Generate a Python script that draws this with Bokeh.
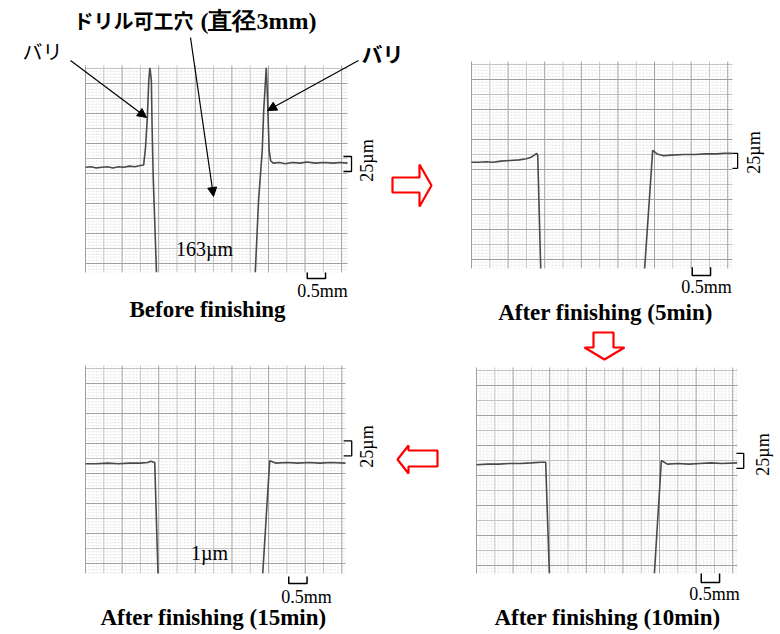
from math import pi
from bokeh.plotting import figure
from bokeh.models import Range1d, Arrow, NormalHead
from bokeh.core.properties import value
from bokeh.embed import file_html
from bokeh.resources import INLINE

# ---------------- data (profile traces: x in mm, y in µm from surface) ----------------
p1_left_x = [0.00, 0.15, 0.30, 0.45, 0.60, 0.75, 0.90, 1.05, 1.20, 1.35, 1.50, 1.59, 1.64, 1.69, 1.73, 1.76, 1.80, 1.82, 1.85, 1.94]
p1_left_y = [-3, -2, -4, -3, -2, -4, -2, -3, -1, -2, 0, 1, 30, 80, 142, 163, 142, 65, -19, -178]
p1_right_x = [4.64, 4.73, 4.83, 4.87, 4.94, 4.96, 4.99, 5.02, 5.06, 5.13, 5.30, 5.46, 5.65, 5.87, 6.05, 6.28, 6.50, 6.78, 6.95, 7.16]
p1_right_y = [-178, -58, 25, 92, 163, 137, 80, 25, 8, 4, 5, 3, 5, 4, 6, 4, 5, 4, 5, 4]

p2_left_x = [0.00, 0.20, 0.40, 0.60, 0.80, 1.07, 1.30, 1.50, 1.61, 1.72, 1.78, 1.81, 1.89]
p2_left_y = [-3, -3, -2, -3, -1, 0, 1, 3, 5, 9, 12, 8, -180]
p2_right_x = [4.73, 4.95, 5.07, 5.25, 5.45, 5.80, 6.10, 6.40, 6.70, 6.90, 7.13]
p2_right_y = [-180, 17, 11, 8, 9, 10, 10, 11, 11, 12, 12]

p3_left_x = [0.00, 0.30, 0.60, 0.90, 1.20, 1.50, 1.70, 1.78, 1.89, 1.98]
p3_left_y = [-2, -2, -1, -2, -1, -1, 0, 2, 0, -185]
p3_right_x = [4.84, 5.03, 5.19, 5.50, 5.80, 6.10, 6.40, 6.70, 7.10]
p3_right_y = [-185, 3, -1, 0, -1, 0, -1, 0, -1]

p4_left_x = [0.00, 0.30, 0.60, 0.90, 1.20, 1.50, 1.75, 1.89, 1.99]
p4_left_y = [-2, -1, -1, 0, 0, 1, 2, 2, -183]
p4_right_x = [4.86, 5.05, 5.21, 5.50, 5.80, 6.10, 6.40, 6.70, 7.12]
p4_right_y = [-183, 5, -1, 0, -1, 0, 1, 0, 1]

panel_titles = ["Before finishing", "After finishing (5min)", "After finishing (15min)", "After finishing (10min)"]
burr_labels = ["163µm", "1µm"]
scale_x_label = "0.5mm"
scale_y_label = "25µm"
scale_x_mm = 0.5
scale_y_um = 25
hole_label = ["ドリル可工穴", "(直径3mm)"]
burr_word = "バリ"

# panel extents (data units) and their boxes on the page (layout)
panel_xmax = [7.16, 7.13, 7.10, 7.13]
panel_ytop = [166.7, 165.0, 161.7, 160.0]
panel_ybot = [-178.3, -180.0, -185.0, -183.3]
boxes = [(85, 65, 347, 272), (471, 61, 732, 268), (85, 365, 345, 573), (476, 367, 737, 573)]
traces = [
    [(p1_left_x, p1_left_y), (p1_right_x, p1_right_y)],
    [(p2_left_x, p2_left_y), (p2_right_x, p2_right_y)],
    [(p3_left_x, p3_left_y), (p3_right_x, p3_right_y)],
    [(p4_left_x, p4_left_y), (p4_right_x, p4_right_y)],
]

W, H = 780, 634
X0, X1, Y0, Y1 = 0, W, 0, H

p = figure(width=W, height=H, x_range=Range1d(X0, X1), y_range=Range1d(Y1, Y0),
           output_backend="svg", toolbar_location=None, min_border=0,
           x_axis_type=None, y_axis_type=None)
p.outline_line_color = None
p.grid.visible = False
p.background_fill_color = "white"

SERIF = value("Liberation Serif")
CJK = value("Noto Sans CJK JP")

# scale bar / bracket placement per panel (layout, in panel units)
sbar_x0 = [6.06, 6.03, 5.55, 6.14]
sbar_top = [0, 2, -5, 0]
sbar_drop = [6, 7, 10, 9]
brk_x = [(7.05, 7.27), (7.13, 7.27), (7.05, 7.27), (7.10, 7.30)]
brk_top = [15, 12, 36, 17]

for i in range(4):
    L, T, R, B = boxes[i]
    xmax, ytop, ybot = panel_xmax[i], panel_ytop[i], panel_ybot[i]
    sx = xmax / (R - L)
    sy = (ytop - ybot) / (B - T)
    xr = Range1d(0 - (L - X0) * sx, xmax + (X1 - R) * sx)
    yr = Range1d(ybot - (Y1 - B) * sy, ytop + (T - Y0) * sy)
    xn, yn = f"px{i}", f"py{i}"
    p.extra_x_ranges[xn] = xr
    p.extra_y_ranges[yn] = yr

    # fine dotted grid
    fx, fy = [], []
    j = 1
    while 0.1 * j < xmax:
        if j % 5:
            fx.append([0.1 * j, 0.1 * j]); fy.append([ybot, ytop])
        j += 1
    j = 1
    while ytop - 5 - 5 * j > ybot:
        if j % 5:
            yy = ytop - 5 - 5 * j
            fx.append([0, xmax]); fy.append([yy, yy])
        j += 1
    p.multi_line(fx, fy, line_color="#e0e0e0", line_width=1, line_dash="1 2",
                 x_range_name=xn, y_range_name=yn)

    # main grid lines
    lx, ly, dx, dy = [], [], [], []
    k = 0
    while 0.5 * k <= xmax + 1e-6:
        (dx if k % 2 == 0 else lx).append([0.5 * k, 0.5 * k])
        (dy if k % 2 == 0 else ly).append([ybot, ytop])
        k += 1
    k = 0
    while ytop - 5 - 25 * k > ybot:
        yy = ytop - 5 - 25 * k
        (dx if k % 2 == 1 else lx).append([0, xmax])
        (dy if k % 2 == 1 else ly).append([yy, yy])
        k += 1
    p.multi_line(lx, ly, line_color="#c4c4c4", line_width=1, x_range_name=xn, y_range_name=yn)
    p.multi_line(dx, dy, line_color="#a0a0a0", line_width=1, x_range_name=xn, y_range_name=yn)

    # profile traces
    for tx, ty in traces[i]:
        p.line(tx, ty, line_color="#4a4a4a", line_width=1.6, x_range_name=xn, y_range_name=yn)

    # 0.5 mm scale bar
    x0 = sbar_x0[i]
    yt = ybot + sbar_top[i]
    yb = ybot - sbar_drop[i] / 0.6
    p.line([x0, x0, x0 + scale_x_mm, x0 + scale_x_mm], [yt, yb, yb, yt],
           line_color="black", line_width=1.5, x_range_name=xn, y_range_name=yn)

    # 25 µm bracket
    bx0, bx1 = brk_x[i]
    bt = brk_top[i]
    p.line([bx0, bx1, bx1, bx0], [bt, bt, bt - scale_y_um, bt - scale_y_um],
           line_color="black", line_width=1.3, x_range_name=xn, y_range_name=yn)

# ---------------- texts (layout positions in page pixels) ----------------
title_pos = [(207, 309), (605, 312), (213, 617), (607, 617)]
p.text(x=[t[0] for t in title_pos], y=[t[1] for t in title_pos], text=panel_titles,
       text_font=SERIF, text_font_style="bold", text_font_size="23px",
       text_align="center", text_baseline="middle", text_color="black")

sx_pos = [(322, 290), (706, 286), (306, 596), (714, 593)]
p.text(x=[t[0] for t in sx_pos], y=[t[1] for t in sx_pos], text=[scale_x_label] * 4,
       text_font=SERIF, text_font_size="18px", text_align="center", text_baseline="middle",
       text_color="black")

sy_pos = [(366, 160), (753, 152), (366, 446), (762, 454)]
p.text(x=[t[0] for t in sy_pos], y=[t[1] for t in sy_pos], text=[scale_y_label] * 4,
       angle=pi / 2, text_font=SERIF, text_font_size="18px", text_align="center",
       text_baseline="middle", text_color="black")

bl_pos = [(204, 248), (209, 552)]
p.text(x=[t[0] for t in bl_pos], y=[t[1] for t in bl_pos], text=burr_labels,
       text_font=SERIF, text_font_size="20px", text_align="center", text_baseline="middle",
       text_color="black")

p.text(x=[73], y=[20], text=[hole_label[0]], text_font=CJK, text_font_style="bold",
       text_font_size="20px", text_align="left", text_baseline="middle", text_color="black")
p.text(x=[200], y=[20], text=[hole_label[1]], text_font=SERIF, text_font_style="bold",
       text_font_size="24px", text_align="left", text_baseline="middle", text_color="black")

p.text(x=[42], y=[51], text=[burr_word], text_font=CJK, text_font_size="20px",
       text_align="center", text_baseline="middle", text_color="black")
p.text(x=[382], y=[52], text=[burr_word], text_font=CJK, text_font_style="bold",
       text_font_size="21px", text_align="center", text_baseline="middle", text_color="black")

# annotation arrows
for (xs_, ys_, xe_, ye_) in [(70, 60, 146, 117), (358, 60, 267, 110), (190, 37, 213, 196)]:
    p.add_layout(Arrow(x_start=xs_, y_start=ys_, x_end=xe_, y_end=ye_, line_width=1.2,
                       line_color="black",
                       end=NormalHead(size=9, fill_color="black", line_color="black")))

# red hollow block arrows between panels
arrows_x = [
    [392, 419, 419, 431, 419, 419, 392],
    [593, 613, 613, 624, 604, 584, 593],
    [437, 408, 408, 397, 408, 408, 437],
]
arrows_y = [
    [177, 177, 164, 185, 206, 192, 192],
    [332, 332, 347, 347, 359, 347, 347],
    [450, 450, 445, 459, 473, 466, 466],
]
p.patches(arrows_x, arrows_y, fill_color="white", line_color="#ff0000", line_width=2.2)

open("out.html", "w").write(file_html(p, INLINE))
